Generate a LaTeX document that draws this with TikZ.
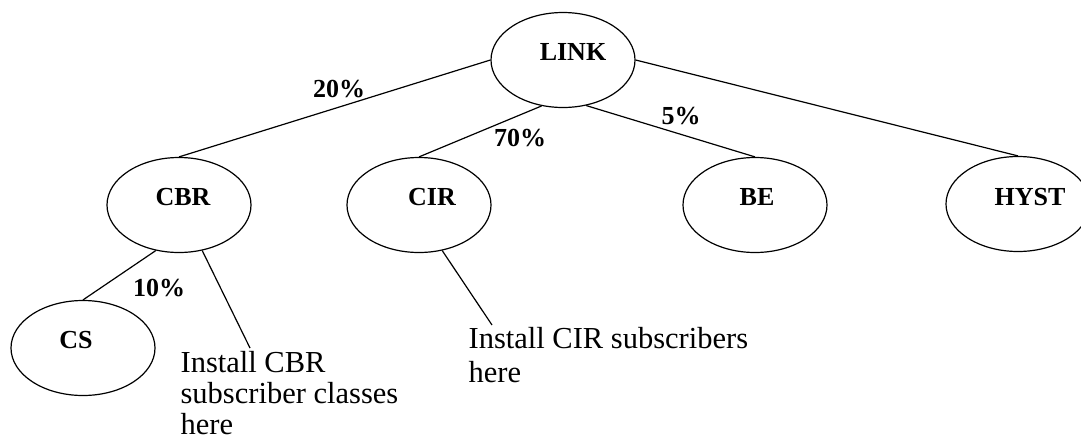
\documentclass[tikz,border=0pt]{standalone}
\usepackage{fontspec}
\setmainfont{Liberation Serif}
\usetikzlibrary{shapes.geometric}
\begin{document}
\begin{tikzpicture}[x=1pt,y=-1pt,line width=1.2pt,
  oval/.style={draw,ellipse,minimum width=144pt,minimum height=95pt,inner sep=0pt},
  lbl/.style={font=\fontsize{26}{30}\selectfont\bfseries,inner sep=0pt},
  note/.style={font=\fontsize{30.5}{31}\selectfont,align=left,anchor=north west,inner sep=0pt}]
\useasboundingbox (0,0) rectangle (1081,437);
\node[oval,label={[lbl,xshift=10pt,yshift=8pt]center:LINK}] (link) at (563,60) {};
\node[oval,label={[lbl,xshift=4pt,yshift=8pt]center:CBR}] (cbr) at (179,205) {};
\node[oval,label={[lbl,xshift=13pt,yshift=8pt]center:CIR}] (cir) at (419,205) {};
\node[oval,label={[lbl,xshift=2pt,yshift=8pt]center:BE}] (be) at (755,205) {};
\node[oval,label={[lbl,xshift=12pt,yshift=7pt]center:HYST}] (hyst) at (1018,204) {};
\node[oval,label={[lbl,xshift=-7pt,yshift=8pt]center:CS}] (cs) at (83,348) {};
\node[note] (cbrnote) at (180,351) {Install CBR\\subscriber classes\\here};
\node[note,font=\fontsize{30.5}{34}\selectfont] (cirnote) at (468,327) {Install CIR subscribers\\here};
\coordinate (cbrend) at (250,348);
\coordinate (cirend) at (492,325);
\draw (link.west) -- (cbr.north);
\draw (link.245) -- (cir.north);
\draw (link.297) -- (be.north);
\draw (link.east) -- (hyst.north);
\draw (cbr.243) -- (cs.north);
\draw (cbr.297) -- (cbrend);
\draw (cir.297) -- (cirend);
\node[lbl] (p20) at (339,89) {20\%};
\node[lbl] (p70) at (520,138) {70\%};
\node[lbl] (p5) at (681,116) {5\%};
\node[lbl] (p10) at (159,288) {10\%};
\end{tikzpicture}
\end{document}
